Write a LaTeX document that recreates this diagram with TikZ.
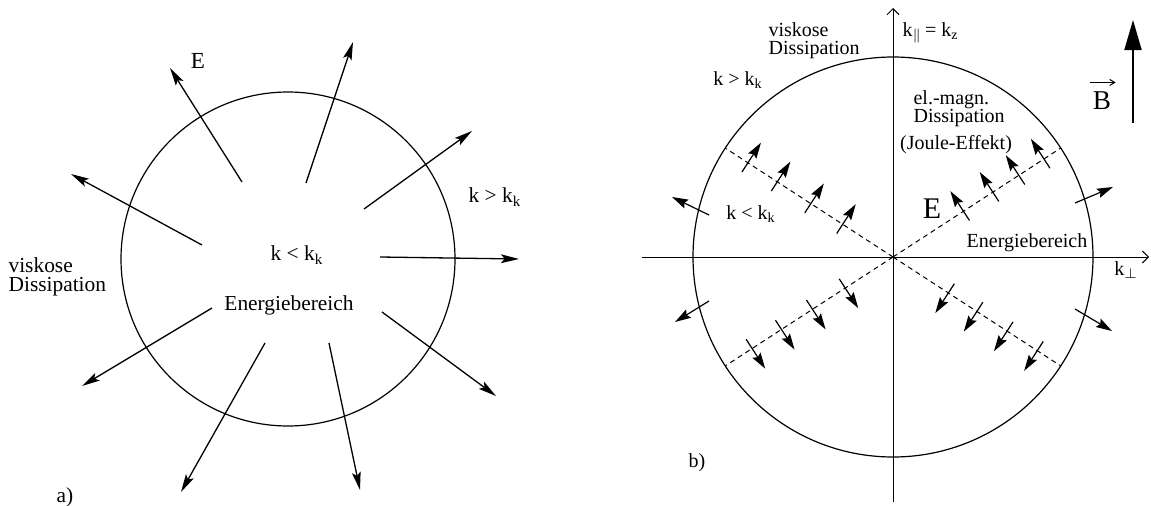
\documentclass[tikz,border=0pt]{standalone}
\usepackage{fontspec}
\setmainfont{Liberation Serif}
\usetikzlibrary{arrows.meta}

\begin{document}
\begin{tikzpicture}[x=0.5pt, y=0.5pt, line width=0.6pt,
	every node/.style={font=\fontsize{10.7}{9.5}\selectfont, inner sep=0pt},
	>={Stealth[length=9pt, width=4.4pt, inset=1.8pt]},
	flux/.style={->, >={Stealth[length=8pt, width=4.8pt, inset=1.2pt]}},
	axis/.style={-{Straight Barb[length=3pt, width=6pt]}, line width=0.5pt},
	guide/.style={dash pattern=on 2.5pt off 2pt, line width=0.5pt}]
	\useasboundingbox (0,0) rectangle (1151,505);
	\begin{scope}[shift={(288,246)}]
		\draw (0,0) circle (167);
		\foreach \sx/\sy/\ex/\ey in {-46/77/-118/191, 18/76/65/217, 76/50/184/128, -86/14/-217/85, 92/2/231/0, -76/-49/-206/-127, -23/-84/-107/-233, 41/-84/72/-231, 94/-53/208/-137}
			\draw[->, line width=0.65pt] (\sx,\sy) -- (\ex,\ey);
		\node (Ea) at (-90,198) {\fontsize{11.5}{12}\selectfont E};
		\node (kgta) at (207,62) {k > k\textsubscript{k}};
		\node (klta) at (9,4) {k < k\textsubscript{k}};
		\node (enera) at (1,-46) {Energiebereich};
		\node (viska) [anchor=west, align=left] at (-280,-18) {viskose\\Dissipation};
		\node (laba) at (-223,-238) {a)};
	\end{scope}
	\begin{scope}[shift={(893,248)}, every node/.style={font=\fontsize{10}{9}\selectfont, inner sep=0pt}]
		\draw (0,0) circle (200);
		\draw[axis] (-251,0) -- (256,0);
		\draw[axis] (0,-245) -- (0,249);
		\foreach \a/\p/\dl in {33/123/{84,119,150,180}, 147/57/{60,98,138,173}, 213/303/{57,96,133,168}, 327/237/{66,100,136,172}} {
			\draw[guide] (0,0) -- (\a:200);
			\foreach \d in \dl
				\draw[flux, shift={(\a:\d)}] (\p:-11) -- (\p:24);
		}
		\foreach \sx/\sy/\ex/\ey in {-184/42/-221/60, -184/-44/-218/-65, 182/54/220/70, 182/-52/219/-74}
			\draw[flux] (\sx,\sy) -- (\ex,\ey);
		\draw[line width=1pt, -{Triangle[length=15pt, width=8.5pt]}] (240,134) -- (240,237);
		\node (Blab) at (209,156) {\fontsize{13.6}{14}\selectfont B};
		\draw[-{Straight Barb[length=2.5pt, width=3pt]}, line width=0.5pt] ([xshift=-1pt, yshift=4.5pt]Blab.north west) -- ([xshift=2pt, yshift=4.5pt]Blab.north east);
		\node (kpar) [anchor=west] at (9,224) {k\textsubscript{$\|$}\,= k\textsubscript{z}};
		\node (kperp) at (233,-13) {k\textsubscript{$\perp$}};
		\node (viskb) [anchor=west, align=left] at (-125,216) {viskose\\Dissipation};
		\node (kgtb) at (-155,177) {k > k\textsubscript{k}};
		\node (emb) [anchor=west, align=left] at (20,148) {el.-magn.\\Dissipation};
		\node (jouleb) at (63,112) {(Joule-Effekt)};
		\node (kltb) at (-142,43) {k < k\textsubscript{k}};
		\node (Eb) at (39,48) {\fontsize{15}{15}\selectfont E};
		\node (enerb) at (134,14) {Energiebereich};
		\node (labb) at (-196,-206) {b)};
	\end{scope}
\end{tikzpicture}
\end{document}
